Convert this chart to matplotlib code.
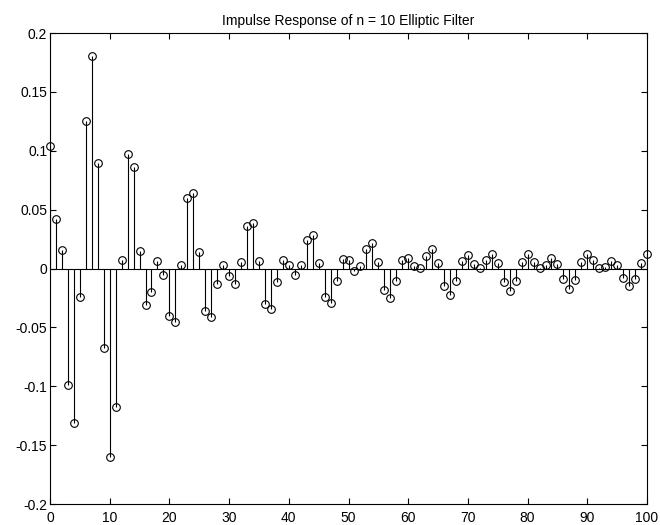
import matplotlib.pyplot as plt
import numpy as np

plt.rcParams['font.family'] = ['Liberation Sans', 'DejaVu Sans']

n = np.arange(0, 101)
h = [0.104, 0.0418, 0.0159, -0.0986, -0.131, -0.0241, 0.1256, 0.1807, 0.090, -0.0676,
     -0.160, -0.1173, 0.0071, 0.0969, 0.0864, 0.0151, -0.0313, -0.0199, 0.006, -0.0051,
     -0.0406, -0.0457, 0.0031, 0.0597, 0.0645, 0.0142, -0.0361, -0.0409, -0.0131, 0.0031,
     -0.006, -0.0133, 0.0057, 0.036, 0.039, 0.0062, -0.0298, -0.0343, -0.0113, 0.0068,
     0.0026, -0.0057, 0.0031, 0.0238, 0.0281, 0.0048, -0.0238, -0.0292, -0.0105, 0.0077,
     0.0071, -0.0017, 0.0017, 0.0162, 0.0216, 0.0054, -0.0183, -0.0253, -0.0109, 0.007,
     0.0091, 0.0017, 0.0006, 0.0105, 0.0162, 0.0048, -0.0148, -0.0221, -0.0102, 0.006,
     0.0113, 0.004, 0.0003, 0.0068, 0.0125, 0.0043, -0.0116, -0.019, -0.0102, 0.0054,
     0.0122, 0.0057, 0.0002, 0.0032, 0.0085, 0.0037, -0.0091, -0.0173, -0.0094, 0.0054,
     0.0119, 0.0071, 0.0003, 0.0011, 0.006, 0.0031, -0.008, -0.015, -0.0088, 0.0045,
     0.0119]

fig = plt.figure(figsize=(6.6, 5.25), dpi=100)
ax = fig.add_axes([50 / 660, 1 - 504 / 525, 597 / 660, 471 / 525])

ax.vlines(n, 0, h, color='black', linewidth=0.8)
ax.plot(n, h, 'o', markerfacecolor='none', markeredgecolor='black',
        markersize=5.5, markeredgewidth=0.8, clip_on=False, zorder=3)
ax.plot([0, 100], [0, 0], color='black', linewidth=0.8)

ax.set_xlim(0, 100)
ax.set_ylim(-0.2, 0.2)
ax.set_xticks(np.arange(0, 101, 10))
ax.set_yticks(np.arange(-0.2, 0.201, 0.05))
ax.set_yticklabels(['-0.2', '-0.15', '-0.1', '-0.05', '0', '0.05', '0.1', '0.15', '0.2'])
ax.tick_params(direction='in', top=True, right=True, length=4, labelsize=10)
ax.tick_params(axis='x', pad=5)
ax.tick_params(axis='y', pad=2)
for s in ax.spines.values():
    s.set_linewidth(0.8)
ax.set_title('Impulse Response of n = 10 Elliptic Filter', fontsize=10, pad=6)

fig.savefig('out.png', dpi=100)
